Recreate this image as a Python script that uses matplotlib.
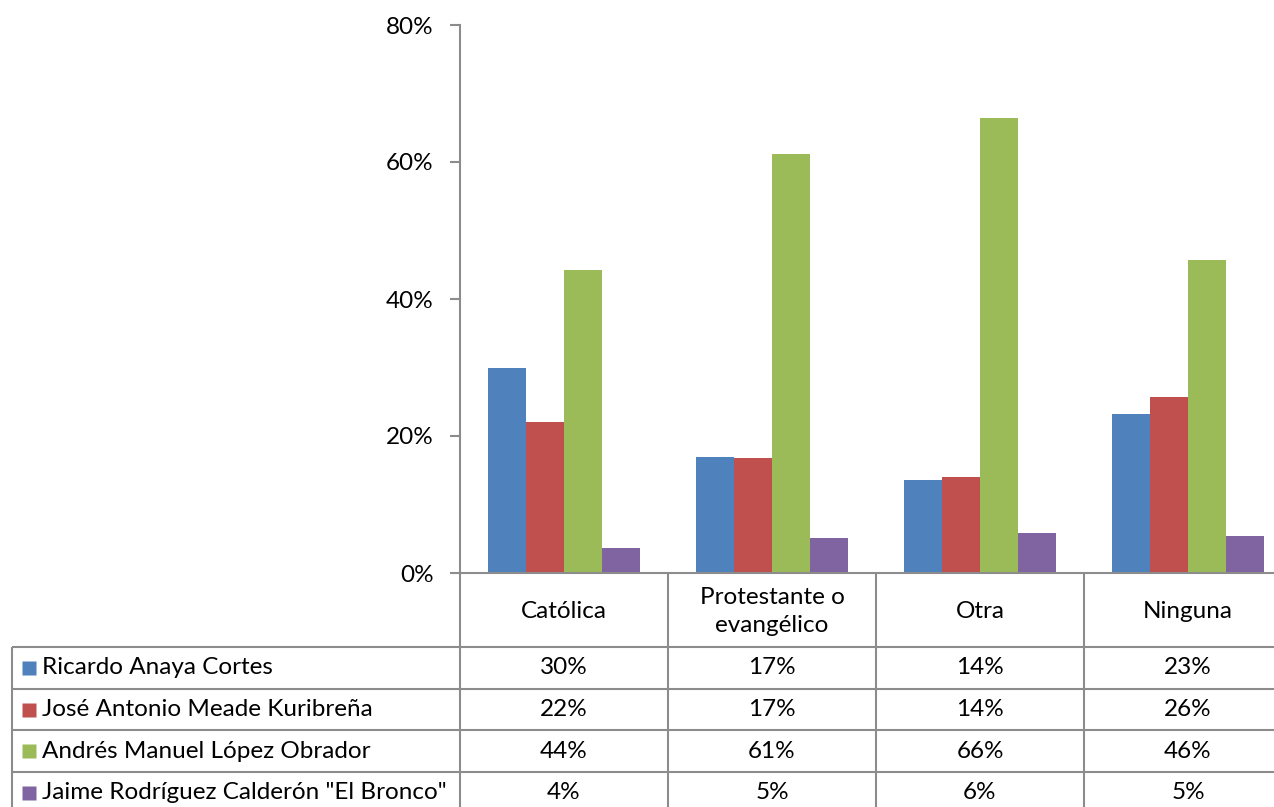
import matplotlib.pyplot as plt
import numpy as np

categories = ["Católica", "Protestante o\nevangélico", "Otra", "Ninguna"]
candidates = ["Ricardo Anaya Cortes", "José Antonio Meade Kuribreña",
              "Andrés Manuel López Obrador", 'Jaime Rodríguez Calderón "El Bronco"']
anaya = [0.300, 0.169, 0.136, 0.232]
meade = [0.220, 0.168, 0.140, 0.257]
amlo = [0.442, 0.612, 0.664, 0.457]
bronco = [0.036, 0.051, 0.058, 0.054]
series = [anaya, meade, amlo, bronco]
colors = ["#4F81BD", "#C0504D", "#9BBB59", "#8064A2"]
yticks = [0, 0.2, 0.4, 0.6, 0.8]

plt.rcParams["font.family"] = ["Lato", "DejaVu Sans"]
FS = 17.5
GRID = "#8c8c8c"

W, H = 1274, 807
fig = plt.figure(figsize=(W / 100, H / 100), dpi=100)

def fx(px):
    return px / W

def fy(py):
    return 1 - py / H

# chart area (right edge runs past the figure like the original)
ax = fig.add_axes([fx(460), fy(573), fx(1292) - fx(460), fy(25) - fy(573)])
x = np.arange(len(categories))
bw = 0.182
for j, (vals, c) in enumerate(zip(series, colors)):
    ax.bar(x + (j - 1.5) * bw, vals, bw, color=c, edgecolor="none")
ax.set_xlim(-0.5, 3.5)
ax.set_ylim(0, 0.8)
ax.set_yticks(yticks)
ax.set_yticklabels([f"{int(round(t * 100))}%" for t in yticks], fontsize=FS)
ax.set_xticks([])
for s in ["top", "right"]:
    ax.spines[s].set_visible(False)
for s in ["left", "bottom"]:
    ax.spines[s].set_color(GRID)
    ax.spines[s].set_linewidth(1.5)
ax.tick_params(axis="y", length=7, width=1.5, color=GRID, pad=12)

# data table below
cw = 208
lab_w = 448 / cw
hdr = 74 / 41.7
rh = 41.7
tax = fig.add_axes([fx(12), fy(573 + 74 + 4 * rh), fx(1292) - fx(12),
                    (74 + 4 * rh) / H])
x0 = -0.5 - lab_w
tax.set_xlim(x0, 3.5)
tax.set_ylim(hdr + 4, 0)
tax.axis("off")

lk = dict(color=GRID, lw=1.5, clip_on=False, solid_capstyle="butt")
for xv in np.arange(-0.5, 4.0, 1.0):
    tax.plot([xv, xv], [0, hdr + 4], **lk)
tax.plot([x0, x0], [hdr, hdr + 4], **lk)
for i in range(5):
    tax.plot([x0, 3.5], [hdr + i, hdr + i], **lk)

for i, cat in enumerate(categories):
    tax.text(i, hdr / 2 + 0.04, cat, ha="center", va="center", fontsize=FS,
             linespacing=1.45)

for r, (name, vals, c) in enumerate(zip(candidates, series, colors)):
    yc = hdr + r + 0.5
    tax.plot(x0 + 16.5 / cw, yc, marker="s", ms=10.5, color=c, mec="none",
             clip_on=False)
    tax.text(x0 + 30 / cw, yc, name, ha="left", va="center", fontsize=FS)
    for i, v in enumerate(vals):
        tax.text(i, yc, f"{int(round(v * 100))}%", ha="center", va="center",
                 fontsize=FS)

plt.savefig("out.png", dpi=100)
